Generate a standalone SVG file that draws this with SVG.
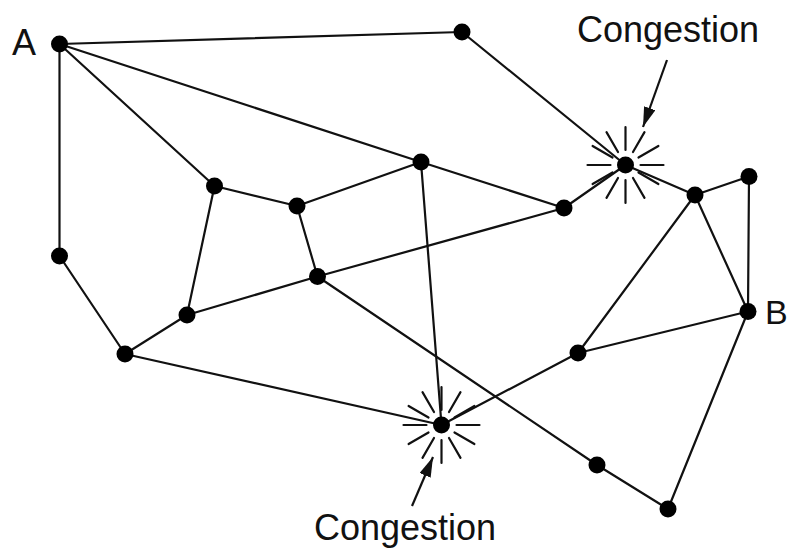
<svg xmlns="http://www.w3.org/2000/svg" width="790" height="550" viewBox="0 0 790 550">
<style>
.e{stroke:#111;stroke-width:2.2;fill:none;stroke-linecap:round}
.n{fill:#000}
.r{stroke:#111;stroke-width:2.2;stroke-linecap:round}
.t{font-family:"Liberation Sans",Arial,sans-serif;font-size:36px;fill:#111}
.a{stroke:#111;stroke-width:2.2;fill:none}
</style>
<defs>
<marker id="ahb" viewBox="0 0 20 12" refX="20" refY="6" markerWidth="20" markerHeight="12" markerUnits="userSpaceOnUse" orient="auto">
<path d="M0,0 L20,6 L0,12 z" fill="#111"/>
</marker>
<g id="burst">
<line class="r" x1="15" y1="0" x2="38" y2="0"/>
<line class="r" x1="15" y1="0" x2="38" y2="0" transform="rotate(30)"/>
<line class="r" x1="15" y1="0" x2="38" y2="0" transform="rotate(60)"/>
<line class="r" x1="15" y1="0" x2="38" y2="0" transform="rotate(90)"/>
<line class="r" x1="15" y1="0" x2="38" y2="0" transform="rotate(120)"/>
<line class="r" x1="15" y1="0" x2="38" y2="0" transform="rotate(150)"/>
<line class="r" x1="15" y1="0" x2="38" y2="0" transform="rotate(180)"/>
<line class="r" x1="15" y1="0" x2="38" y2="0" transform="rotate(210)"/>
<line class="r" x1="15" y1="0" x2="38" y2="0" transform="rotate(240)"/>
<line class="r" x1="15" y1="0" x2="38" y2="0" transform="rotate(270)"/>
<line class="r" x1="15" y1="0" x2="38" y2="0" transform="rotate(300)"/>
<line class="r" x1="15" y1="0" x2="38" y2="0" transform="rotate(330)"/>
</g>
</defs>
<rect width="790" height="550" fill="#fff"/>
<g id="connectors">
<line class="e" x1="59.5" y1="44" x2="462" y2="32"/>
<line class="e" x1="462" y1="32" x2="625.5" y2="165"/>
<line class="e" x1="59.5" y1="44" x2="421" y2="162"/>
<line class="e" x1="421" y1="162" x2="564" y2="208"/>
<line class="e" x1="59.5" y1="44" x2="214.5" y2="186"/>
<line class="e" x1="59.5" y1="44" x2="59.5" y2="256"/>
<line class="e" x1="59.5" y1="256" x2="125" y2="354"/>
<line class="e" x1="214.5" y1="186" x2="297" y2="206"/>
<line class="e" x1="214.5" y1="186" x2="187" y2="315"/>
<line class="e" x1="297" y1="206" x2="421" y2="162"/>
<line class="e" x1="297" y1="206" x2="317.5" y2="276.5"/>
<line class="e" x1="187" y1="315" x2="317.5" y2="276.5"/>
<line class="e" x1="317.5" y1="276.5" x2="564" y2="208"/>
<line class="e" x1="187" y1="315" x2="125" y2="354"/>
<line class="e" x1="125" y1="354" x2="441.5" y2="425"/>
<line class="e" x1="421" y1="162" x2="441.5" y2="425"/>
<line class="e" x1="317.5" y1="276.5" x2="597" y2="465"/>
<line class="e" x1="597" y1="465" x2="668" y2="509"/>
<line class="e" x1="668" y1="509" x2="748" y2="311.5"/>
<line class="e" x1="748" y1="311.5" x2="578" y2="353"/>
<line class="e" x1="578" y1="353" x2="441.5" y2="425"/>
<line class="e" x1="578" y1="353" x2="695" y2="195"/>
<line class="e" x1="695" y1="195" x2="748" y2="311.5"/>
<line class="e" x1="695" y1="195" x2="749" y2="176.5"/>
<line class="e" x1="749" y1="176.5" x2="748" y2="311.5"/>
<line class="e" x1="564" y1="208" x2="625.5" y2="165"/>
<line class="e" x1="625.5" y1="165" x2="695" y2="195"/>
<line class="a" x1="667" y1="60" x2="643" y2="127" marker-end="url(#ahb)"/>
<line class="a" x1="412" y1="506" x2="433" y2="457" marker-end="url(#ahb)"/>
</g>
<g id="congestion1">
<use href="#burst" transform="translate(625.5,165)"/>
<circle class="n" cx="625.5" cy="165" r="8.5"/>
<text class="t" x="577" y="42">Congestion</text>
</g>
<g id="congestion2">
<use href="#burst" transform="translate(441.5,425)"/>
<circle class="n" cx="441.5" cy="425" r="8.5"/>
<text class="t" x="314" y="540">Congestion</text>
</g>
<g id="nodeA"><circle class="n" cx="59.5" cy="44" r="8.5"/><text class="t" x="12" y="55">A</text></g>
<g id="nodeB"><circle class="n" cx="748" cy="311.5" r="8.5"/><text class="t" x="765" y="324" style="font-size:34px">B</text></g>
<g id="n1"><circle class="n" cx="462" cy="32" r="8.5"/></g>
<g id="n2"><circle class="n" cx="214.5" cy="186" r="8.5"/></g>
<g id="n3"><circle class="n" cx="297" cy="206" r="8.5"/></g>
<g id="n4"><circle class="n" cx="421" cy="162" r="8.5"/></g>
<g id="n5"><circle class="n" cx="564" cy="208" r="8.5"/></g>
<g id="n6"><circle class="n" cx="695" cy="195" r="8.5"/></g>
<g id="n7"><circle class="n" cx="749" cy="176.5" r="8.5"/></g>
<g id="n8"><circle class="n" cx="59.5" cy="256" r="8.5"/></g>
<g id="n9"><circle class="n" cx="317.5" cy="276.5" r="8.5"/></g>
<g id="n10"><circle class="n" cx="187" cy="315" r="8.5"/></g>
<g id="n11"><circle class="n" cx="125" cy="354" r="8.5"/></g>
<g id="n12"><circle class="n" cx="578" cy="353" r="8.5"/></g>
<g id="n13"><circle class="n" cx="597" cy="465" r="8.5"/></g>
<g id="n14"><circle class="n" cx="668" cy="509" r="8.5"/></g>
</svg>
